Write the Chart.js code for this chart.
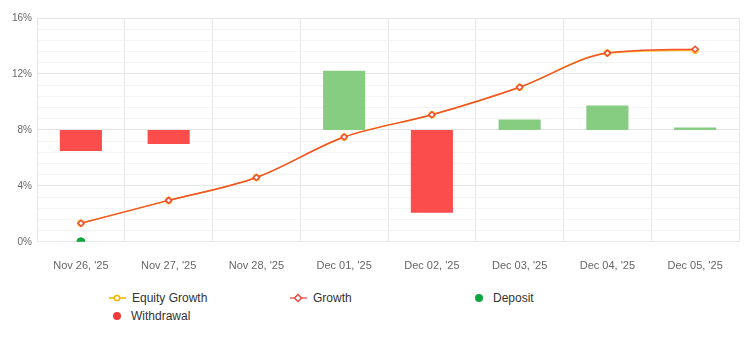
<!DOCTYPE html>
<html>
<head>
<meta charset="utf-8">
<script src="https://cdn.jsdelivr.net/npm/chart.js@4"></script>
<style>
    html, body { margin: 0; padding: 0; background: #fff; }
    body { width: 750px; height: 350px; font-family: "Liberation Sans", Arial, sans-serif; }
    #chart-wrap { position: relative; width: 750px; height: 291px; }
    #legend {
        display: grid;
        grid-template-columns: repeat(3, 181px);
        justify-content: start;
        padding-left: 109px;
        row-gap: 3px;
        margin-top: -1px;
    }
    .legend-item { display: flex; align-items: center; font-size: 12px; color: #333; height: 15px; }
    .legend-item svg { margin-right: 6px; }
</style>
</head>
<body>
<div id="chart-wrap"><canvas id="growthChart"></canvas></div>
<div id="legend"></div>

<script>
const categories = ['Nov 26, \'25', 'Nov 27, \'25', 'Nov 28, \'25', 'Dec 01, \'25', 'Dec 02, \'25', 'Dec 03, \'25', 'Dec 04, \'25', 'Dec 05, \'25'];
const growth = [1.33, 2.96, 4.6, 7.49, 9.08, 11.05, 13.49, 13.77];
const equityGrowth = [1.33, 2.96, 4.6, 7.49, 9.08, 11.05, 13.49, 13.7];
const deposit = [0, null, null, null, null, null, null, null];
const withdrawal = [null, null, null, null, null, null, null, null];
// daily change drawn as floating bars around the 8% baseline
const barBase = 8;
const dailyChange = [-1.5, -1.0, 0, 4.23, -5.92, 0.75, 1.74, 0.18];
const yTicks = [0, 4, 8, 12, 16];

const GREEN_BAR = '#86cd82';
const RED_BAR = '#fc4d4d';

function isMajor(v) {
    return yTicks.some(t => Math.abs(t - v) < 1e-6);
}

const data = {
    labels: categories,
    datasets: [
        {
            type: 'line',
            label: 'Growth',
            data: growth,
            borderColor: '#f2512a',
            borderWidth: 1.5,
            cubicInterpolationMode: 'monotone',
            pointStyle: 'rectRot',
            pointRadius: 3,
            pointBorderWidth: 1.5,
            pointBackgroundColor: '#fff',
            pointBorderColor: '#ef4b3c',
            legendColor: '#f08a8a',
            legendPoint: '#ef4b3c',
            order: 1
        },
        {
            type: 'line',
            label: 'Equity Growth',
            data: equityGrowth,
            borderColor: '#fcc22d',
            borderWidth: 1.5,
            cubicInterpolationMode: 'monotone',
            pointStyle: 'circle',
            pointRadius: 3,
            pointBorderWidth: 1.5,
            pointBackgroundColor: '#fff',
            pointBorderColor: '#fcc22d',
            legendColor: '#fcc22d',
            legendPoint: '#f5b400',
            order: 2
        },
        {
            type: 'line',
            label: 'Deposit',
            data: deposit,
            showLine: false,
            pointStyle: 'circle',
            pointRadius: 4,
            pointBackgroundColor: '#0aa83c',
            pointBorderColor: '#0aa83c',
            borderColor: '#0aa83c',
            order: 0
        },
        {
            type: 'line',
            label: 'Withdrawal',
            data: withdrawal,
            showLine: false,
            pointStyle: 'circle',
            pointRadius: 4,
            pointBackgroundColor: '#ef3b3b',
            pointBorderColor: '#ef3b3b',
            borderColor: '#ef3b3b',
            order: 0
        },
        {
            type: 'bar',
            label: 'Change',
            data: dailyChange.map(v => [barBase, barBase + v]),
            backgroundColor: dailyChange.map(v => v < 0 ? RED_BAR : GREEN_BAR),
            barPercentage: 0.8,
            categoryPercentage: 0.6,
            order: 5
        }
    ]
};

const chart = new Chart(document.getElementById('growthChart'), {
    data: data,
    options: {
        responsive: true,
        maintainAspectRatio: false,
        animation: false,
        layout: { padding: { top: 18, right: 11, left: 7, bottom: 0 } },
        plugins: {
            legend: { display: false },
            tooltip: { enabled: false }
        },
        scales: {
            x: {
                offset: true,
                grid: { offset: true, color: '#e8e8e8', drawTicks: false },
                border: { color: '#e8e8e8' },
                ticks: {
                    color: '#666',
                    padding: 18,
                    maxRotation: 0,
                    font: { family: '"Liberation Sans", Arial, sans-serif', size: 11 }
                }
            },
            y: {
                min: 0,
                max: 16,
                grid: {
                    drawTicks: false,
                    color: ctx => isMajor(ctx.tick.value) ? '#e6e6e6' : '#f4f4f4'
                },
                border: { color: '#e6e6e6' },
                ticks: {
                    stepSize: 0.8,
                    autoSkip: false,
                    color: '#666',
                    padding: 5,
                    font: { family: '"Liberation Sans", Arial, sans-serif', size: 10 },
                    callback: v => isMajor(v) ? Math.round(v) + '%' : ''
                }
            }
        }
    }
});

// legend below the canvas, one cell per line/point dataset
function legendMarker(ds) {
    if (ds.label === 'Deposit' || ds.label === 'Withdrawal') {
        return '<svg width="16" height="12"><circle cx="8" cy="6" r="4" fill="' + ds.pointBackgroundColor + '"/></svg>';
    }
    let mark;
    if (ds.pointStyle === 'rectRot') {
        mark = '<rect x="5.5" y="3.5" width="5" height="5" transform="rotate(45 8 6)" fill="#fff" stroke="' + ds.legendPoint + '" stroke-width="1.5"/>';
    } else {
        mark = '<circle cx="8" cy="6" r="2.6" fill="#fff" stroke="' + ds.legendPoint + '" stroke-width="1.5"/>';
    }
    return '<svg width="17" height="12"><line x1="0" y1="6" x2="17" y2="6" stroke="' + ds.legendColor + '" stroke-width="2"/>' + mark + '</svg>';
}

const legendOrder = ['Equity Growth', 'Growth', 'Deposit', 'Withdrawal'];
const legendEl = document.getElementById('legend');
legendOrder.forEach(name => {
    const ds = chart.data.datasets.find(d => d.label === name);
    const item = document.createElement('div');
    item.className = 'legend-item';
    item.innerHTML = legendMarker(ds) + '<span>' + ds.label + '</span>';
    legendEl.appendChild(item);
});
</script>
</body>
</html>
